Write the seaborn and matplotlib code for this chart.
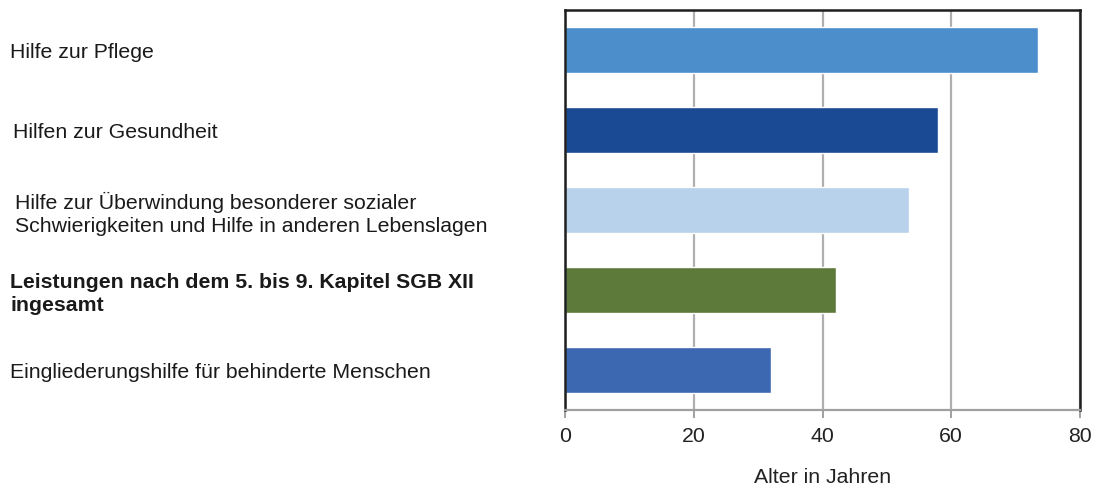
import pandas as pd
import matplotlib.pyplot as plt
import matplotlib.transforms as mtransforms
import seaborn as sns

# data
categories = [
    "Hilfe zur Pflege",
    "Hilfen zur Gesundheit",
    "Hilfe zur Überwindung besonderer sozialer\nSchwierigkeiten und Hilfe in anderen Lebenslagen",
    "Leistungen nach dem 5. bis 9. Kapitel SGB XII\ningesamt",
    "Eingliederungshilfe für behinderte Menschen",
]
alter = [73.5, 58.0, 53.4, 42.1, 32.0]
colors = ["#4B8ECB", "#1A4A94", "#B8D2EB", "#5E7A3A", "#3C67B1"]
xticks = [0, 20, 40, 60, 80]
label_shift = [0, 3, 5, 0, 0]  # small horizontal offsets of the labels, px

df = pd.DataFrame({"kategorie": categories, "alter": alter})

sns.set_style("white")
plt.rcParams["font.family"] = ["Liberation Sans", "DejaVu Sans"]

fig = plt.figure(figsize=(10.96, 4.88), dpi=100)
ax = fig.add_axes([565 / 1096, 1 - 410 / 488, 515 / 1096, 400 / 488])

sns.barplot(data=df, x="alter", y="kategorie", hue="kategorie",
            palette=colors, order=categories, hue_order=categories,
            width=0.58, legend=False, saturation=1, ax=ax)

ax.set_xlim(0, 80)
ax.set_ylim(4.5, -0.5)
ax.set_xticks(xticks)
ax.xaxis.grid(True, color="#AFAFAF", linewidth=1.6)
ax.set_axisbelow(True)

for side in ["left", "top", "right"]:
    ax.spines[side].set_color("#1E1E1E")
    ax.spines[side].set_linewidth(1.8)
ax.spines["bottom"].set_color("#A0A0A0")
ax.spines["bottom"].set_linewidth(1.6)

ax.tick_params(axis="x", bottom=True, length=6, width=1.4, color="#A0A0A0",
               labelsize=15.3, labelcolor="#222222", pad=6)
ax.tick_params(axis="y", left=False, pad=(565 - 15) * 0.72, labelsize=15.3,
               labelcolor="#1A1A1A")
for lbl, dx in zip(ax.get_yticklabels(), label_shift):
    lbl.set_horizontalalignment("left")
    lbl.set_linespacing(1.25)
    if dx:
        lbl.set_transform(lbl.get_transform() +
                          mtransforms.ScaledTranslation(dx / 100, 0, fig.dpi_scale_trans))
    if lbl.get_text().startswith("Leistungen"):
        lbl.set_fontweight("bold")

ax.set_ylabel("")
ax.set_xlabel("Alter in Jahren", fontsize=15.3, color="#222222", labelpad=16)

plt.savefig("out.png", dpi=100)
